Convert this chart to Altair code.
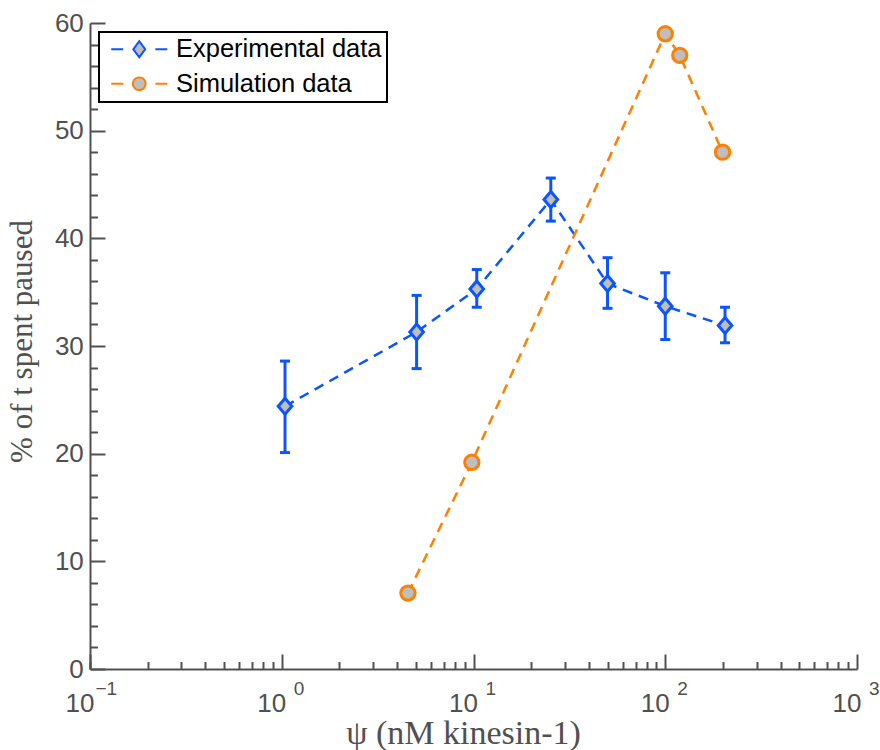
import altair as alt
import pandas as pd

# ---- data ----
series_names = ["Experimental data", "Simulation data"]

exp_x = [1.04, 5.05, 10.4, 25.3, 50.0, 100.0, 205.0]
exp_y = [24.4, 31.3, 35.3, 43.6, 35.8, 33.7, 31.9]
exp_lo = [20.1, 27.9, 33.6, 41.6, 33.5, 30.6, 30.3]
exp_hi = [28.6, 34.7, 37.1, 45.6, 38.2, 36.8, 33.6]

sim_x = [4.55, 9.8, 100.0, 119.0, 199.0]
sim_y = [7.05, 19.2, 59.0, 57.0, 48.0]

x_major = [0.1, 1, 10, 100, 1000]
x_minor = [m * 10 ** e for e in range(-1, 3) for m in range(2, 10)]
y_major = list(range(0, 61, 10))
y_minor = [v for v in range(0, 61, 2) if v % 10]

# ---- styles ----
BLUE = "#0a55ff"
ORANGE = "#ff8000"
GRAY = "#bebebe"
AX = "#505050"
SANS = "Liberation Sans"
SERIF = "Liberation Serif"

P_DIAMOND = "M0,-1L0.85,0L0,1L-0.85,0Z"
P_LEG_EXP = "M-4,0H-2.3M2.3,0H4M0,-1.15L0.85,0L0,1.15L-0.85,0Z"
P_LEG_SIM = "M-4,0H-2.3M2.3,0H4M0.9,0A0.9,0.9 0 1,1 -0.9,0A0.9,0.9 0 1,1 0.9,0Z"

exp_df = pd.DataFrame({"x": exp_x, "y": exp_y, "lo": exp_lo, "hi": exp_hi,
                       "series": series_names[0]})
sim_df = pd.DataFrame({"x": sim_x, "y": sim_y, "series": series_names[1]})
line_df = pd.concat([exp_df[["x", "y", "series"]], sim_df], ignore_index=True)

xscale = alt.Scale(type="log", domain=[0.1, 1000], nice=False)
yscale = alt.Scale(domain=[0, 60], nice=False, zero=False)

# mantissa "10" and the exponents are drawn as label sets of different sizes
base_expr = "datum.value < 0.5 ? '10' : '\u00a010'"
exp_expr = ("datum.value < 0.5 ? '' : datum.value < 5 ? '0' : "
            "datum.value < 50 ? '1' : datum.value < 500 ? '2' : '3'")
neg_expr = "datum.value < 0.15 ? '\u22121' : ''"

main_x = alt.Axis(orient="bottom", values=x_major, labelExpr=base_expr, ticks=False,
                  tickSize=0, domain=True, domainColor=AX, domainWidth=2, grid=False,
                  labelFont=SANS, labelFontSize=26, labelColor=AX, labelPadding=42.7,
                  labelAlign="left", labelOffset=-25, labelBaseline="alphabetic",
                  labelFlush=False, labelOverlap=False, labelBound=False,
                  title="ψ (nM kinesin-1)", titleFont=SERIF, titleFontSize=34,
                  titleFontWeight="normal", titleColor=AX, titleX=373, titleY=74,
                  titleBaseline="alphabetic", titleAlign="center")
main_y = alt.Axis(orient="left", values=y_major, ticks=False, tickSize=0,
                  domain=True, domainColor=AX, domainWidth=2, grid=False,
                  labelFont=SANS, labelFontSize=26, labelColor=AX, labelPadding=6.7,
                  labelFlush=False, labelOverlap=False, labelBound=False,
                  title="% of t spent paused", titleFont=SERIF, titleFontSize=31,
                  titleFontWeight="normal", titleColor=AX, titleAngle=270,
                  titleX=-68, titleY=318, titleAlign="center", titleBaseline="middle")

major_x = alt.Axis(orient="bottom", values=x_major, labels=True, labelExpr=exp_expr,
                   labelFont=SANS, labelFontSize=19, labelColor=AX, labelPadding=25,
                   labelAlign="left", labelOffset=11.5, labelBaseline="alphabetic",
                   labelFlush=False, labelOverlap=False, labelBound=False,
                   domain=False, grid=False,
                   ticks=True, tickSize=15, tickWidth=2, tickColor=AX, offset=-15, title=None)
minor_x = alt.Axis(orient="bottom", values=[0.1] + x_minor, labels=True, labelExpr=neg_expr,
                   labelFont=SANS, labelFontSize=19, labelColor=AX, labelPadding=25,
                   labelAlign="left", labelOffset=5, labelBaseline="alphabetic",
                   labelFlush=False, labelOverlap=False, labelBound=False,
                   domain=False, grid=False,
                   ticks=True, tickSize=7.5, tickWidth=2, tickColor=AX, offset=-7.5, title=None)
major_y = alt.Axis(orient="left", values=y_major, labels=False, domain=False, grid=False,
                   ticks=True, tickSize=15, tickWidth=2, tickColor=AX, offset=-15, title=None)
minor_y = alt.Axis(orient="left", values=y_minor, labels=False, domain=False, grid=False,
                   ticks=True, tickSize=7.5, tickWidth=2, tickColor=AX, offset=-7.5, title=None)

shape_signal = (f"datum.value === '{series_names[0]}' ? '{P_LEG_EXP}' : '{P_LEG_SIM}'")

legend = alt.Legend(
    title=None, orient="none", legendX=9, legendY=9,
    fillColor="white", strokeColor="black", padding=4.5, rowPadding=7.5,
    symbolSize=196, symbolOffset=23, labelOffset=24,
    symbolType=alt.ExprRef(expr=shape_signal),
    symbolFillColor=GRAY, symbolOpacity=1, symbolStrokeWidth=2, symbolDash=[1, 0],
    labelFont=SANS, labelFontSize=25.5, labelColor="black", labelLimit=400,
)

lines = alt.Chart(line_df).mark_line(strokeDash=[10, 7], strokeWidth=2.5).encode(
    x=alt.X("x:Q", scale=xscale, axis=main_x),
    y=alt.Y("y:Q", scale=yscale, axis=main_y),
    color=alt.Color("series:N", scale=alt.Scale(domain=series_names, range=[BLUE, ORANGE]),
                    legend=legend),
)

rules = alt.Chart(exp_df).mark_rule(color=BLUE, strokeWidth=3).encode(
    x=alt.X("x:Q", scale=xscale, axis=major_x),
    y=alt.Y("lo:Q", scale=yscale, axis=major_y),
    y2="hi:Q",
)

caps = alt.Chart(exp_df).transform_fold(["lo", "hi"], as_=["k", "v"]).mark_tick(
    color=BLUE, orient="horizontal", size=10, thickness=3, opacity=1
).encode(
    x=alt.X("x:Q", scale=xscale, axis=minor_x),
    y=alt.Y("v:Q", scale=yscale, axis=minor_y),
)

pts_exp = alt.Chart(exp_df).mark_point(
    shape=P_DIAMOND, size=256, filled=True, fill=GRAY, fillOpacity=1,
    stroke=BLUE, strokeWidth=3, opacity=1
).encode(
    x=alt.X("x:Q", scale=xscale, axis=None),
    y=alt.Y("y:Q", scale=yscale, axis=None),
)

pts_sim = alt.Chart(sim_df).mark_point(
    shape="circle", size=205, filled=True, fill=GRAY, fillOpacity=1,
    stroke=ORANGE, strokeWidth=3, opacity=1
).encode(
    x=alt.X("x:Q", scale=xscale, axis=None),
    y=alt.Y("y:Q", scale=yscale, axis=None),
)

chart = alt.layer(lines, rules, caps, pts_exp, pts_sim).resolve_axis(
    x="independent", y="independent"
).properties(
    width=767, height=646,
    autosize=alt.AutoSizeParams(type="none"),
    padding={"left": 90, "top": 23, "right": 23, "bottom": 81},
).configure_view(stroke="transparent").configure_legend(strokeWidth=2)

chart.save("out.html", embed_options={"renderer": "svg", "actions": False})
